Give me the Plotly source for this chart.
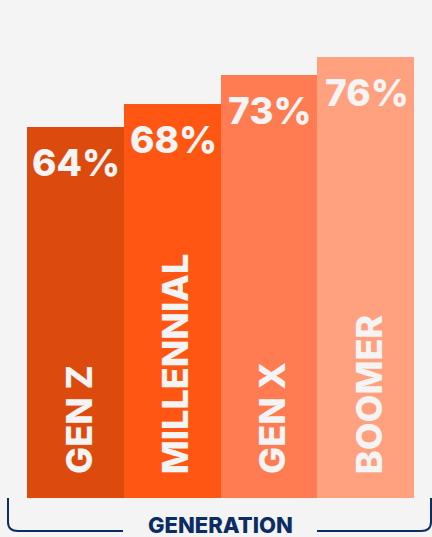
import plotly.graph_objects as go

# data
generations = ['GEN Z', 'MILLENNIAL', 'GEN X', 'BOOMER']
share = [64, 68, 73, 76]
colors = ['#DC4A0E', '#FF5713', '#FF7B52', '#FFA07F']

W, H = 432, 537
L, R, T, B = 27, 18, 0, 39
BG = '#F4F4F4'
NAVY = '#0B2D63'

fig = go.Figure(go.Bar(
    x=generations,
    y=share,
    marker_color=colors,
    marker_line_width=0,
    hoverinfo='skip',
))

# percentage labels near the top of each bar
for g, v in zip(generations, share):
    fig.add_annotation(
        x=g, y=v, text='%d%%' % v, showarrow=False,
        yanchor='top', yshift=-11, xshift=1,
        font=dict(family='Inter', size=37, color=BG, weight=800),
    )
    # rotated generation names at the bottom
    fig.add_annotation(
        x=g, y=0, text='%s' % g, showarrow=False,
        textangle=-90, yanchor='bottom', yshift=22, xshift=3,
        font=dict(family='Inter', size=36, color=BG, weight=800),
    )


# bracket under the chart (pixel -> paper)
def px(X):
    return (X - L) / (W - L - R)


def py(Y):
    return (H - B - Y) / (H - T - B)


def path(points):
    s = ''
    for cmd, pts in points:
        s += cmd + ' ' + ' '.join('%.4f,%.4f' % (px(a), py(b)) for a, b in pts) + ' '
    return s


left = path([('M', [(8, 498)]), ('L', [(8, 522)]),
             ('Q', [(8, 531), (18, 531)]), ('L', [(123, 531)])])
right = path([('M', [(317, 531)]), ('L', [(421, 531)]),
              ('Q', [(431, 531), (431, 522)]), ('L', [(431, 498)])])
for p in (left, right):
    fig.add_shape(type='path', path=p, xref='paper', yref='paper',
                  line=dict(color=NAVY, width=2))

fig.add_annotation(
    x=px(220), y=py(537), xref='paper', yref='paper',
    text='GENERATION', showarrow=False, yanchor='bottom', yshift=-3,
    font=dict(family='Inter', size=22, color=NAVY, weight=800),
)

fig.update_layout(
    width=W, height=H,
    margin=dict(l=L, r=R, t=T, b=B),
    paper_bgcolor=BG, plot_bgcolor=BG,
    bargap=0,
    showlegend=False,
    xaxis=dict(visible=False),
    yaxis=dict(visible=False, range=[0, 498 / 5.8]),
)

fig.write_html('out.html', config={'displayModeBar': False},
               post_script="document.body.style.margin='0';")
